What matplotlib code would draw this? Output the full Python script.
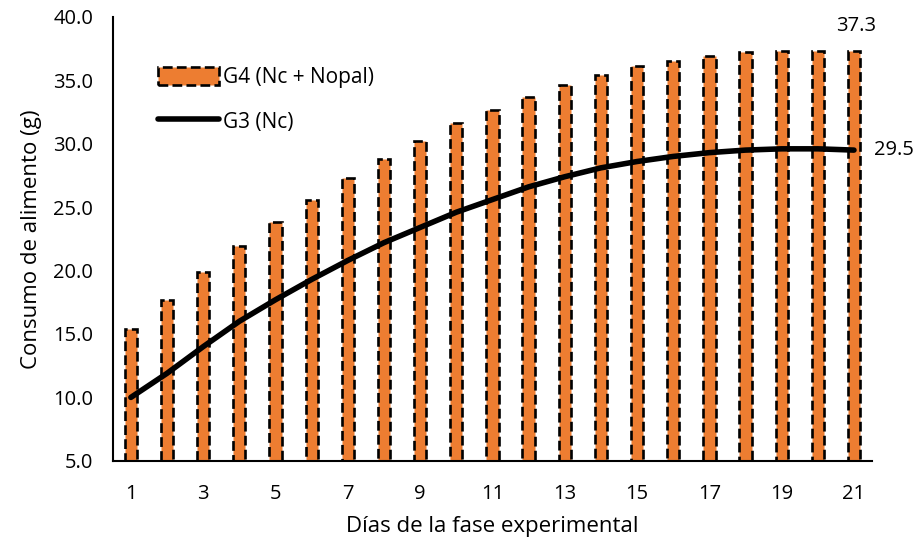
import matplotlib
matplotlib.use('Agg')
import matplotlib.pyplot as plt
import numpy as np

dias = list(range(1, 22))
# G4 (Nc + Nopal) - barras
g4 = [15.4, 17.7, 19.9, 21.9, 23.8, 25.6, 27.3, 28.8, 30.2, 31.6, 32.7,
      33.7, 34.6, 35.4, 36.1, 36.5, 36.9, 37.2, 37.3, 37.3, 37.3]
# G3 (Nc) - linea
g3 = [10.0, 11.9, 14.0, 16.0, 17.7, 19.3, 20.8, 22.2, 23.4, 24.6, 25.6,
      26.6, 27.4, 28.1, 28.6, 29.0, 29.3, 29.5, 29.6, 29.6, 29.5]
xticks = list(range(1, 22, 2))
yticks = [5.0, 10.0, 15.0, 20.0, 25.0, 30.0, 35.0, 40.0]

plt.rcParams['font.family'] = ['Open Sans', 'DejaVu Sans']

fig = plt.figure(figsize=(9.17, 5.46), dpi=100)
ax = fig.add_axes([0.123, 0.156, 0.828, 0.813])

bars = ax.bar(dias, [v - 5 for v in g4], bottom=5, width=0.34, color='#ED7D31',
              edgecolor='black', linestyle='--', linewidth=1.9,
              label='G4 (Nc + Nopal)')
line, = ax.plot(dias, g3, color='black', linewidth=4, solid_capstyle='round',
                label='G3 (Nc)')

ax.text(dias[-1] + 0.05, g4[-1] + 1.2, '37.3', ha='center', va='bottom', fontsize=14.5)
ax.text(dias[-1] + 0.55, g3[-1], '29.5', ha='left', va='center', fontsize=14.5)

ax.set_xlim(0.5, 21.5)
ax.set_ylim(5, 40)
ax.set_xticks(xticks)
ax.set_yticks(yticks)
ax.set_yticklabels(['%.1f' % v for v in yticks])
ax.tick_params(length=0, labelsize=14.5)
ax.tick_params(axis='x', pad=17)
ax.tick_params(axis='y', pad=14)

for s in ['top', 'right']:
    ax.spines[s].set_visible(False)
ax.spines['left'].set_linewidth(1.5)
ax.spines['bottom'].set_linewidth(1.5)

ax.set_ylabel('Consumo de alimento (g)', fontsize=16, labelpad=8)
ax.set_xlabel('Días de la fase experimental', fontsize=16, labelpad=8)

ax.legend([bars, line], ['G4 (Nc + Nopal)', 'G3 (Nc)'],
          loc='upper left', bbox_to_anchor=(0.035, 0.93), frameon=False,
          fontsize=15, handlelength=2.9, handleheight=1.0,
          handletextpad=0.2, labelspacing=1.1)

fig.savefig('out.png', dpi=100)
